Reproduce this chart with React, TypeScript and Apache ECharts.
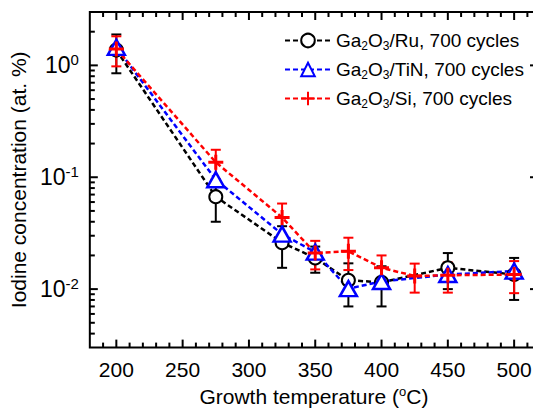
import React, { useEffect, useRef } from "react";
import * as echarts from "echarts";

// Growth temperatures (°C)
const temps = [200, 275, 325, 350, 375, 400, 450, 500];
const siTemps = [200, 275, 325, 350, 375, 400, 425, 450, 500];

// Iodine concentration (at. %)
const ruValues = [1.37, 0.067, 0.026, 0.019, 0.012, 0.0115, 0.0155, 0.0135];
const ruErrors = [0.52, 0.027, 0.0105, 0.005, 0.005, 0.0045, 0.0055, 0.0055];
const tinValues = [1.45, 0.095, 0.031, 0.0214, 0.0101, 0.0117, 0.0135, 0.0145];
const siValues = [1.4, 0.136, 0.0437, 0.021, 0.0218, 0.0155, 0.0131, 0.0133, 0.0135];
const siErrors = [0.42, 0.04, 0.0145, 0.006, 0.007, 0.0045, 0.0038, 0.004, 0.0043];

const seriesNames = ["Ga2O3/Ru, 700 cycles", "Ga2O3/TiN, 700 cycles", "Ga2O3/Si, 700 cycles"];

const xMin = 180;
const xMax = 518;
const xMajorTicks = [200, 250, 300, 350, 400, 450, 500];
const yMinValue = 0.003;
const yMaxValue = 3;
const yDecades = [-3, -2, -1, 0];

const FONT = "'Liberation Sans', Arial, Helvetica, sans-serif";

const lg = (v: number) => Math.log10(v);
const yMin = lg(yMinValue);
const yMax = lg(yMaxValue);

const xMinorTicks: number[] = [];
for (let t = xMin + 10; t < xMax; t += 10) {
  if (t % 50 !== 0) xMinorTicks.push(t);
}
const yMajorTicks = yDecades.filter((d) => d > yMin && d < yMax);
const yMinorTicks: number[] = [];
yDecades.forEach((d) => {
  for (let k = 2; k <= 9; k++) {
    const v = lg(k) + d;
    if (v > yMin + 1e-6 && v < yMax - 1e-6) yMinorTicks.push(v);
  }
});

function errorSeries(name: string, xs: number[], vals: number[], errs: number[], color: string) {
  return {
    type: "custom",
    name: name + " err",
    silent: true,
    data: xs.map((x, i) => [x, lg(vals[i] - errs[i]), lg(vals[i] + errs[i])]),
    encode: { x: 0, y: [1, 2] },
    renderItem: (params: any, api: any) => {
      const x = api.value(0);
      const top = api.coord([x, api.value(2)]);
      const bot = api.coord([x, api.value(1)]);
      const w = 5;
      const style = { stroke: color, lineWidth: 2 };
      return {
        type: "group",
        children: [
          { type: "line", shape: { x1: top[0], y1: top[1], x2: bot[0], y2: bot[1] }, style },
          { type: "line", shape: { x1: top[0] - w, y1: top[1], x2: top[0] + w, y2: top[1] }, style },
          { type: "line", shape: { x1: bot[0] - w, y1: bot[1], x2: bot[0] + w, y2: bot[1] }, style },
        ],
      };
    },
  };
}

// Inward tick marks drawn as small rect symbols placed by the axes' scales.
function tickMarks(name: string, points: number[][], size: number[], offset: number[]) {
  return {
    type: "scatter",
    name,
    silent: true,
    clip: false,
    z: 4,
    symbol: "rect",
    symbolSize: size,
    symbolOffset: offset,
    itemStyle: { color: "#000", opacity: 1 },
    data: points,
  };
}

export default function App() {
  const ref = useRef<HTMLDivElement>(null);

  useEffect(() => {
    if (!ref.current) return;
    const chart = echarts.init(ref.current, undefined, { renderer: "svg" });

    const option: any = {
      animation: false,
      backgroundColor: "#fff",
      grid: {
        left: 83,
        top: 12,
        width: 455,
        height: 341,
        show: true,
        borderColor: "#000",
        borderWidth: 2,
        backgroundColor: "transparent",
      },
      legend: {
        orient: "vertical",
        left: 279,
        top: 26,
        itemWidth: 46,
        itemHeight: 17,
        itemGap: 8,
        data: seriesNames,
        textStyle: {
          fontFamily: FONT,
          fontSize: 19,
          color: "#000",
          rich: {
            t: { fontFamily: FONT, fontSize: 19, color: "#000" },
            sub: { fontFamily: FONT, fontSize: 12, color: "#000", padding: [11, 0, 0, 0] },
          },
        },
        formatter: (name: string) =>
          name.replace("Ga2O3", "{t|Ga}{sub|2}{t|O}{sub|3}{t|").concat("}"),
      },
      xAxis: {
        type: "value",
        min: xMin,
        max: xMax,
        axisLine: { show: false, onZero: false },
        axisTick: { show: false },
        splitLine: { show: false },
        axisLabel: {
          show: true,
          customValues: xMajorTicks,
          fontSize: 21,
          fontFamily: FONT,
          color: "#000",
          margin: 11,
        },
        name: "Growth temperature ({sup|o}C)",
        nameLocation: "middle",
        nameGap: 35,
        nameTextStyle: {
          fontFamily: FONT,
          fontSize: 21,
          color: "#000",
          rich: {
            sup: { fontFamily: FONT, fontSize: 13, color: "#000", padding: [0, 0, 11, 0] },
          },
        },
      },
      yAxis: {
        type: "value",
        min: yMin,
        max: yMax,
        axisLine: { show: false, onZero: false },
        axisTick: { show: false },
        splitLine: { show: false },
        axisLabel: {
          show: true,
          customValues: yMajorTicks,
          margin: 11,
          formatter: (v: number) => `{n|10}{s|${Math.round(v)}}`,
          rich: {
            n: { fontFamily: FONT, fontSize: 23, color: "#000" },
            s: { fontFamily: FONT, fontSize: 15, color: "#000", padding: [0, 0, 12, 0] },
          },
        },
        name: "Iodine concentration (at. %)",
        nameLocation: "middle",
        nameGap: 45,
        nameTextStyle: { fontFamily: FONT, fontSize: 21, color: "#000" },
      },
      series: [
        tickMarks("xMajB", xMajorTicks.map((t) => [t, yMin]), [2, 8], [0, -4]),
        tickMarks("xMajT", xMajorTicks.map((t) => [t, yMax]), [2, 8], [0, 4]),
        tickMarks("xMinB", xMinorTicks.map((t) => [t, yMin]), [2, 5], [0, -2.5]),
        tickMarks("xMinT", xMinorTicks.map((t) => [t, yMax]), [2, 5], [0, 2.5]),
        tickMarks("yMajL", yMajorTicks.map((v) => [xMin, v]), [8, 2], [4, 0]),
        tickMarks("yMajR", yMajorTicks.map((v) => [xMax, v]), [8, 2], [-4, 0]),
        tickMarks("yMinL", yMinorTicks.map((v) => [xMin, v]), [5, 2], [2.5, 0]),
        tickMarks("yMinR", yMinorTicks.map((v) => [xMax, v]), [5, 2], [-2.5, 0]),
        errorSeries(seriesNames[0], temps, ruValues, ruErrors, "#000"),
        {
          type: "line",
          name: seriesNames[0],
          data: temps.map((t, i) => [t, lg(ruValues[i])]),
          symbol: "circle",
          symbolSize: 13,
          itemStyle: { color: "#fff", borderColor: "#000", borderWidth: 2 },
          lineStyle: { color: "#000", width: 2.5, type: [5, 3] },
        },
        {
          type: "line",
          name: seriesNames[1],
          data: temps.map((t, i) => [t, lg(tinValues[i])]),
          symbol: "triangle",
          symbolSize: [17, 15],
          itemStyle: { color: "#fff", borderColor: "#0000ff", borderWidth: 2.5 },
          lineStyle: { color: "#0000ff", width: 2.5, type: [5, 3] },
        },
        errorSeries(seriesNames[2], siTemps, siValues, siErrors, "#ff0000"),
        {
          type: "line",
          name: seriesNames[2],
          data: siTemps.map((t, i) => [t, lg(siValues[i])]),
          symbol: "path://M5,0 L5,10 M0,5 L10,5",
          symbolSize: 15,
          itemStyle: { color: "#ff0000", borderColor: "#ff0000", borderWidth: 3 },
          lineStyle: { color: "#ff0000", width: 2.5, type: [5, 3] },
        },
      ],
    };

    chart.setOption(option);
    return () => chart.dispose();
  }, []);

  return (
    <div
      style={{
        position: "fixed",
        left: 0,
        top: 0,
        width: 533,
        height: 412,
        overflow: "hidden",
        background: "#fff",
      }}
    >
      <div ref={ref} style={{ width: 560, height: 412 }} />
    </div>
  );
}
